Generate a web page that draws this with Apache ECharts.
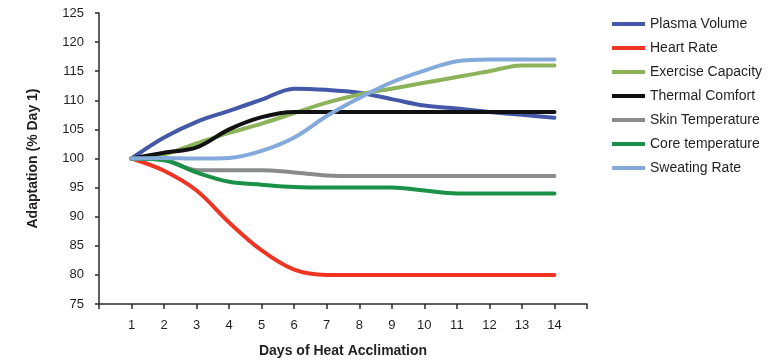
<!DOCTYPE html>
<html><head><meta charset="utf-8">
<script src="https://cdn.jsdelivr.net/npm/echarts@6/dist/echarts.min.js"></script>
<style>html,body{margin:0;padding:0;background:#fff}#c{width:779px;height:364px}</style>
</head><body><div id="c"></div>
<script>
const days = [1,2,3,4,5,6,7,8,9,10,11,12,13,14];
const seriesNames = ['Plasma Volume','Heart Rate','Exercise Capacity','Thermal Comfort','Skin Temperature','Core temperature','Sweating Rate'];
const plasmaVolume     = [100,103.6,106.3,108.2,110.1,112.0,111.8,111.3,110.2,109.1,108.6,108.0,107.5,107.0];
const heartRate        = [100,97.9,94.5,89.0,84.2,80.9,80.0,80.0,80.0,80.0,80.0,80.0,80.0,80.0];
const exerciseCapacity = [100,100.7,102.6,104.4,106.0,107.8,109.6,111.0,112.0,113.0,114.0,115.0,116.0,116.0];
const thermalComfort   = [100,101.0,101.9,105.0,107.1,108.0,108.0,108.0,108.0,108.0,108.0,108.0,108.0,108.0];
const skinTemperature  = [100,99.8,98.0,98.0,98.0,97.6,97.1,97.0,97.0,97.0,97.0,97.0,97.0,97.0];
const coreTemperature  = [100,99.7,97.6,96.0,95.5,95.1,95.0,95.0,95.0,94.5,94.0,94.0,94.0,94.0];
const sweatingRate     = [100,100.1,100.0,100.1,101.3,103.6,107.3,110.4,113.1,115.1,116.7,117.0,117.0,117.0];
const yTicks = [75,80,85,90,95,100,105,110,115,120,125];

const colors = ['#4358a8','#ee3524','#8db35a','#111111','#8a8b8e','#1a9146','#83aada'];
const allData = [plasmaVolume,heartRate,exerciseCapacity,thermalComfort,skinTemperature,coreTemperature,sweatingRate];
const txt = '#231f20';
const font = 'Liberation Sans';

const chart = echarts.init(document.getElementById('c'));
chart.setOption({
  animation:false,
  textStyle:{fontFamily:font},
  grid:{left:99,right:192,top:13,bottom:60,containLabel:false},
  legend:{
    orient:'vertical', left:612, top:16, padding:0,
    icon:'rect', itemWidth:33, itemHeight:4, itemGap:8,
    textStyle:{fontFamily:font,fontSize:14,color:txt,lineHeight:16},
    data:seriesNames
  },
  xAxis:{
    type:'value', min:0, max:15, interval:1,
    name:'Days of Heat Acclimation', nameLocation:'middle', nameGap:40,
    nameTextStyle:{fontFamily:font,fontSize:14,fontWeight:'bold',color:txt},
    axisLine:{lineStyle:{color:'#2b2b2b',width:1.5}},
    axisTick:{show:true,length:5,lineStyle:{color:'#2b2b2b',width:1.5}},
    splitLine:{show:false},
    axisLabel:{fontSize:13,color:txt,margin:15,
      formatter:v=>days.indexOf(v)>=0?String(v):''}
  },
  yAxis:{
    type:'value', min:yTicks[0], max:yTicks[yTicks.length-1], interval:5,
    name:'Adaptation (% Day 1)', nameLocation:'middle', nameGap:59,
    nameTextStyle:{fontFamily:font,fontSize:14,fontWeight:'bold',color:txt},
    axisLine:{show:true,lineStyle:{color:'#2b2b2b',width:1.5}},
    axisTick:{show:true,length:4,lineStyle:{color:'#2b2b2b',width:1.5}},
    splitLine:{show:false},
    axisLabel:{fontSize:13,color:txt,margin:15}
  },
  series: seriesNames.map((n,i)=>({
    name:n, type:'line', smooth:0.35, symbol:'none',
    color:colors[i],
    lineStyle:{width:4,color:colors[i],cap:'round'},
    data: days.map((d,j)=>[d, allData[i][j]])
  }))
});
</script></body></html>
